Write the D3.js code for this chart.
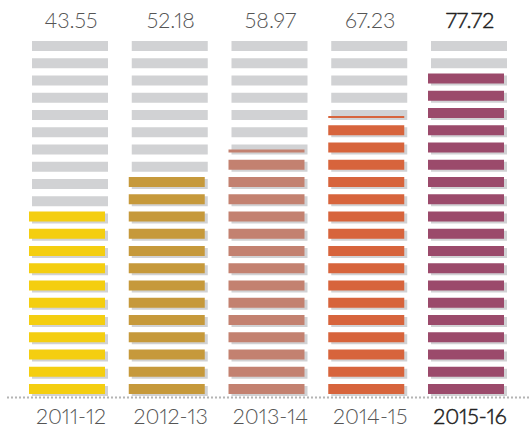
<!DOCTYPE html>
<html>
<head>
<meta charset="utf-8">
<script src="https://cdn.jsdelivr.net/npm/d3@7"></script>
<style>
  html, body { margin: 0; padding: 0; background: #fff; }
  svg { display: block; }
  text { font-variant-numeric: proportional-nums; font-feature-settings: "pnum" 1; }
</style>
</head>
<body>
<svg id="chart" width="530" height="433"></svg>
<script>
// ---- data ----
const years = ["2011-12", "2012-13", "2013-14", "2014-15", "2015-16"];
const valueLabels = ["43.55", "52.18", "58.97", "67.23", "77.72"];
// filled units (rows)
const filledUnits = [11, 13, 14.3, 16.2, 19];
const totalRows = 21;
const colors = ["#F4CE10", "#C6993B", "#C38170", "#D7643C", "#9B4A6B"];

const svg = d3.select("#chart");
const W = 530, H = 433;
const barW = 76, barH = 10;

const x = d3.scalePoint().domain(years).range([32, 431]);
const y = d3.scaleLinear().domain([0, totalRows - 1]).range([386, 41]);

const rows = d3.range(totalRows);

const cols = svg.selectAll("g.col")
  .data(years.map((yr, j) => ({ yr, j, f: filledUnits[j] })))
  .join("g")
  .attr("class", "col")
  .attr("transform", d => `translate(${x(d.yr)},0)`);

// grey background bars
cols.selectAll("rect.bg")
  .data(rows)
  .join("rect")
  .attr("class", "bg")
  .attr("x", 0)
  .attr("y", i => y(i))
  .attr("width", barW)
  .attr("height", barH)
  .attr("fill", "#D1D2D4");

// colored bars
cols.each(function(d) {
  const full = Math.floor(d.f);
  const frac = d.f - full;
  const pieces = d3.range(full).map(i => ({ i, h: 1 }));
  if (frac > 0.001) pieces.push({ i: full, h: frac });
  d3.select(this).selectAll("rect.fg")
    .data(pieces)
    .join("rect")
    .attr("class", "fg")
    .attr("x", -3)
    .attr("y", p => y(p.i) - 2 + barH * (1 - p.h))
    .attr("width", barW)
    .attr("height", p => barH * p.h)
    .attr("fill", colors[d.j]);
});

// dotted baseline
svg.append("line")
  .attr("x1", 7).attr("x2", W)
  .attr("y1", 397.5).attr("y2", 397.5)
  .attr("stroke", "#B4B4B4")
  .attr("stroke-width", 2)
  .attr("stroke-dasharray", "2,2");

const last = years.length - 1;

function styleText(sel) {
  sel.attr("text-anchor", "middle")
    .attr("font-family", "Lato, 'Open Sans', sans-serif")
    .attr("font-size", 21.5)
    .attr("font-weight", 300)
    .attr("fill", (d, j) => j === last ? "#222" : "#555")
    .attr("stroke", (d, j) => j === last ? "#222" : "none")
    .attr("stroke-width", (d, j) => j === last ? 0.5 : 0);
}

// top value labels
svg.selectAll("text.val")
  .data(valueLabels)
  .join("text")
  .attr("class", "val")
  .attr("x", (d, j) => x(years[j]) + barW / 2 + 1)
  .attr("y", 28)
  .call(styleText)
  .text(d => d);

// bottom year labels
svg.selectAll("text.yr")
  .data(years)
  .join("text")
  .attr("class", "yr")
  .attr("x", d => x(d) + barW / 2 + 1)
  .attr("y", 424)
  .call(styleText)
  .text(d => d);
</script>
</body>
</html>
